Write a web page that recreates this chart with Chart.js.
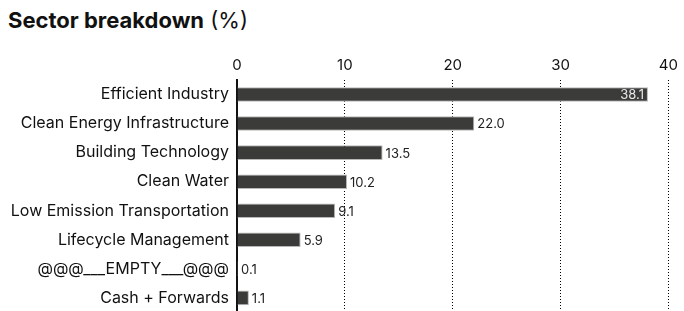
<!DOCTYPE html>
<html>
<head>
<meta charset="utf-8">
<script src="https://cdn.jsdelivr.net/npm/chart.js@4"></script>
<style>
  html, body { margin: 0; padding: 0; background: #fff; }
  #wrap { position: relative; width: 684px; height: 311px; overflow: hidden; }
  #title { position: absolute; left: 8px; top: 7px; font-family: Inter, "Liberation Sans", sans-serif; font-size: 22px; color: #111; }
  #title b { font-weight: 700; }
  canvas { position: absolute; left: 0; top: 0; }
</style>
</head>
<body>
<div id="wrap">
  <div id="title"><b>Sector breakdown</b> (%)</div>
  <canvas id="myChart" width="684" height="330"></canvas>
</div>
<script>
var categories = ['Efficient Industry', 'Clean Energy Infrastructure', 'Building Technology', 'Clean Water',
  'Low Emission Transportation', 'Lifecycle Management', '@@@___EMPTY___@@@', 'Cash + Forwards'];
var values = [38.1, 22.0, 13.5, 10.2, 9.1, 5.9, 0.1, 1.1];
var tickValues = [0, 10, 20, 30, 40];

var FONT = 'Inter, "Liberation Sans", sans-serif';

// draws the value next to (or inside) each bar
var valueLabels = {
  id: 'valueLabels',
  afterDatasetsDraw: function (chart) {
    var ctx = chart.ctx;
    var meta = chart.getDatasetMeta(0);
    ctx.save();
    ctx.font = '13px ' + FONT;
    ctx.textBaseline = 'middle';
    meta.data.forEach(function (bar, i) {
      var txt = values[i].toFixed(1);
      if (values[i] > 30) {
        ctx.fillStyle = '#e8e8e8';
        ctx.textAlign = 'right';
        ctx.fillText(txt, bar.x - 4, bar.y + 1);
      } else {
        ctx.fillStyle = '#222';
        ctx.textAlign = 'left';
        ctx.fillText(txt, bar.x + 3, bar.y + 1);
      }
    });
    ctx.restore();
  }
};

document.addEventListener('DOMContentLoaded', function () {
  var ctx = document.getElementById('myChart').getContext('2d');

  var myChart = new Chart(ctx, {
    type: 'bar',
    data: {
      labels: categories,
      datasets: [{
        data: values,
        backgroundColor: '#3b3b39',
        borderColor: '#b8b8b8',
        borderWidth: 1,
        barPercentage: 0.5,
        categoryPercentage: 1.0
      }]
    },
    options: {
      indexAxis: 'y',
      responsive: false,
      animation: false,
      layout: { padding: { top: 50, right: 11, left: 0, bottom: 0 } },
      plugins: { legend: { display: false }, tooltip: { enabled: false } },
      scales: {
        x: {
          position: 'top',
          min: 0,
          max: 40,
          afterBuildTicks: function (scale) {
            scale.ticks = tickValues.map(function (v) { return { value: v }; });
          },
          border: { display: false, dash: [1, 2] },
          grid: {
            drawTicks: false,
            color: function (c) { return c.tick && c.tick.value === 0 ? 'rgba(0,0,0,0)' : '#000'; },
            lineWidth: 1
          },
          ticks: { padding: 6, color: '#111', font: { family: FONT, size: 15 } }
        },
        y: {
          afterFit: function (scale) { scale.width = 237; },
          border: { display: true, color: '#111', width: 2 },
          grid: { display: false, drawTicks: false },
          ticks: { padding: 8, color: '#111', font: { family: FONT, size: 16 } }
        }
      }
    },
    plugins: [valueLabels]
  });
});
</script>
</body>
</html>
